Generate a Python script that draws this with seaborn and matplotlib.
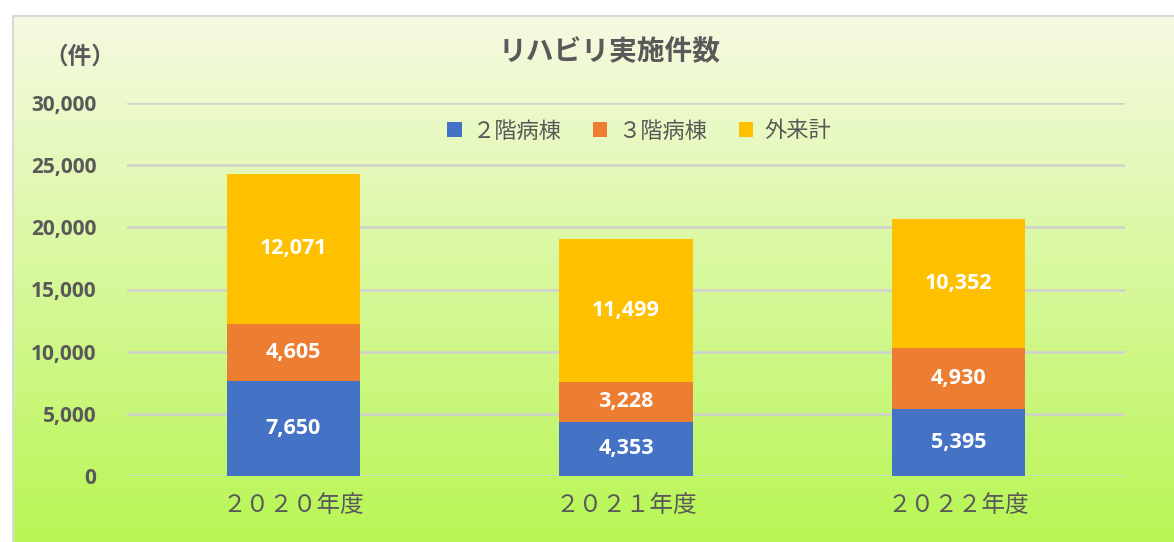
import numpy as np
import pandas as pd
import matplotlib
matplotlib.use("Agg")
import matplotlib.pyplot as plt
from matplotlib.patches import Rectangle
from matplotlib.ticker import FuncFormatter
import seaborn as sns

years = ["２０２０年度", "２０２１年度", "２０２２年度"]
series_names = ["２階病棟", "３階病棟", "外来計"]
ward2 = [7650, 4353, 5395]
ward3 = [4605, 3228, 4930]
outpatient = [12071, 11499, 10352]
colors = ["#4472C4", "#ED7D31", "#FFC000"]

sns.set_theme(style="white")
plt.rcParams["font.family"] = ["Noto Sans CJK JP", "DejaVu Sans"]

fig = plt.figure(figsize=(11.74, 5.42), dpi=100)

# gradient background
bg = fig.add_axes([0, 0, 1, 1], zorder=-10)
bg.set_axis_off()
top = np.array([246, 250, 226]) / 255
bot = np.array([184, 246, 84]) / 255
t = np.linspace(0, 1, 256)[:, None]
grad = top[None, :] * (1 - t) + bot[None, :] * t
img = np.repeat(grad[:, None, :], 2, axis=1)
bg.imshow(img, aspect="auto", extent=[13 / 1174, 1, 0, 1 - 16 / 542], origin="upper")
bg.set_xlim(0, 1)
bg.set_ylim(0, 1)
bg.add_patch(Rectangle((13 / 1174, -0.01), 1.0, 1 - 16 / 542 + 0.01, fill=False,
                       edgecolor="#D9D9D9", linewidth=1.5))

ax = fig.add_axes([127 / 1174, 1 - 476 / 542, (1125 - 127) / 1174, (476 - 103) / 542])
ax.patch.set_alpha(0)

series = [ward2, ward3, outpatient]
bottom = np.zeros(len(years))
for name, vals, c in zip(series_names, series, colors):
    sns.barplot(x=years, y=vals, bottom=bottom, color=c, width=0.4, ax=ax,
                label=name, saturation=1, zorder=3, edgecolor="none", linewidth=0)
    for i, v in enumerate(vals):
        ax.text(i, bottom[i] + v / 2, f"{v:,}", ha="center", va="center",
                color="white", fontsize=15.5, fontweight="bold", zorder=5,
                family=["Open Sans", "DejaVu Sans"])
    bottom = bottom + np.array(vals)

ax.set_xlim(-0.5, 2.5)
ax.set_ylim(0, 30000)
ax.set_yticks(np.arange(0, 30001, 5000))
ax.yaxis.set_major_formatter(FuncFormatter(lambda v, p: f"{int(v):,}"))
ax.grid(axis="y", color="#D0D0D0", linewidth=1.8, zorder=0)
ax.set_axisbelow(True)
for s in ax.spines.values():
    s.set_visible(False)
ax.tick_params(axis="y", length=0, pad=22, labelsize=15, labelcolor="#595959")
ax.tick_params(axis="x", length=0, pad=13, labelsize=17, labelcolor="#595959")
for lab in ax.get_yticklabels():
    lab.set_fontweight("bold")
    lab.set_family(["Open Sans", "DejaVu Sans"])
ax.set_xlabel("")
ax.set_ylabel("")

ax.legend(loc="center", bbox_to_anchor=(639 / 1174, 1 - 131 / 542),
          bbox_transform=fig.transFigure, ncol=3, frameon=False,
          fontsize=16, handlelength=0.65, handleheight=0.65, handletextpad=0.5,
          columnspacing=1.4, labelcolor="#595959")

fig.text(610 / 1174, 1 - 52 / 542, "リハビリ実施件数", ha="center", va="center",
         fontsize=20, fontweight="bold", color="#595959")
fig.text(80 / 1174, 1 - 57 / 542, "（件）", ha="center", va="center",
         fontsize=17, fontweight="bold", color="#595959")

fig.savefig("out.png", dpi=100)
